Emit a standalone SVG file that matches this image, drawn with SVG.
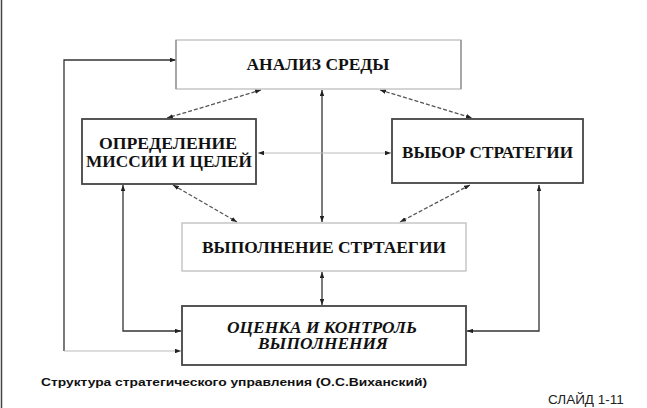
<svg xmlns="http://www.w3.org/2000/svg" width="647" height="408" viewBox="0 0 647 408">
<style>
.bg{fill:#fff}
.dk{fill:#fff;stroke:#444;stroke-width:1.8}
.lt{fill:#fff;stroke:#b8b8b8;stroke-width:1.2}
.t{font-family:"Liberation Serif","DejaVu Serif",serif;font-weight:bold;font-size:16px;fill:#111;text-anchor:middle}
.ti{font-style:italic}
.c{fill:none;stroke:#333;stroke-width:1.3}
.cd{fill:none;stroke:#555;stroke-width:1.3;stroke-dasharray:4 2}
.cl{fill:none;stroke:#bbb;stroke-width:1.1}
.cap{font-family:"Liberation Sans",Arial,sans-serif;font-weight:bold;font-size:11.5px;fill:#111}
.sl{font-family:"Liberation Sans",Arial,sans-serif;font-size:13.5px;fill:#222}
</style>
<defs>
<marker id="a" viewBox="0 0 8 6" refX="8" refY="3" markerWidth="6" markerHeight="4.5" markerUnits="userSpaceOnUse" orient="auto-start-reverse"><path d="M0,0L8,3L0,6Z" fill="#222"/></marker>
</defs>
<rect class="bg" x="0" y="0" width="647" height="408"/>
<line x1="1.5" y1="0" x2="1.5" y2="408" stroke="#444" stroke-width="1.5"/>
<g id="connectors">
<polyline class="c" points="64,351 64,60 176,60" marker-end="url(#a)"/>
<polyline class="cl" points="64,351 181,351" marker-end="url(#a)"/>
<polyline class="c" points="123,185 123,331 181,331" marker-start="url(#a)" marker-end="url(#a)"/>
<polyline class="c" points="539,185 539,331 467,331" marker-start="url(#a)" marker-end="url(#a)"/>
<line class="c" x1="322" y1="90" x2="322" y2="222" marker-start="url(#a)" marker-end="url(#a)"/>
<line class="c" x1="322" y1="272" x2="322" y2="305" marker-start="url(#a)" marker-end="url(#a)"/>
<line class="cd" x1="261" y1="90" x2="167" y2="118" marker-start="url(#a)" marker-end="url(#a)"/>
<line class="cd" x1="380" y1="90" x2="472" y2="118" marker-start="url(#a)" marker-end="url(#a)"/>
<line class="cd" x1="173" y1="185" x2="237" y2="222" marker-start="url(#a)" marker-end="url(#a)"/>
<line class="cd" x1="470" y1="185" x2="400" y2="222" marker-start="url(#a)" marker-end="url(#a)"/>
<line class="cl" x1="258" y1="153" x2="391" y2="153" marker-start="url(#a)" marker-end="url(#a)"/>
</g>
<g id="analiz">
<rect class="lt" x="176" y="40" width="285" height="49"/>
<line x1="176" y1="40" x2="176" y2="89" stroke="#888" stroke-width="1.2"/>
<line x1="461" y1="40" x2="461" y2="89" stroke="#888" stroke-width="1.2"/>
<text class="t" x="318" y="70" textLength="143" lengthAdjust="spacingAndGlyphs">АНАЛИЗ СРЕДЫ</text>
</g>
<g id="missiya">
<rect class="dk" x="82" y="119" width="174" height="65"/>
<text class="t" x="168" y="149" textLength="138" lengthAdjust="spacingAndGlyphs">ОПРЕДЕЛЕНИЕ</text>
<text class="t" x="169" y="167" textLength="166" lengthAdjust="spacingAndGlyphs">МИССИИ И ЦЕЛЕЙ</text>
</g>
<g id="vybor">
<rect class="dk" x="392" y="119" width="191" height="64"/>
<text class="t" x="487.5" y="158" textLength="171" lengthAdjust="spacingAndGlyphs">ВЫБОР СТРАТЕГИИ</text>
</g>
<g id="vypolnenie">
<rect class="lt" x="182" y="223" width="284" height="48"/>
<text class="t" x="324" y="253" textLength="244" lengthAdjust="spacingAndGlyphs">ВЫПОЛНЕНИЕ СТРТАЕГИИ</text>
</g>
<g id="ocenka">
<rect class="dk" x="182" y="306" width="284" height="59"/>
<text class="t ti" x="322" y="333" textLength="190" lengthAdjust="spacingAndGlyphs">ОЦЕНКА И КОНТРОЛЬ</text>
<text class="t ti" x="323" y="349" textLength="130" lengthAdjust="spacingAndGlyphs">ВЫПОЛНЕНИЯ</text>
</g>
<text class="cap" x="41" y="386" textLength="386" lengthAdjust="spacingAndGlyphs">Структура стратегического управления (О.С.Виханский)</text>
<text class="sl" x="548" y="404">СЛАЙД 1-11</text>
</svg>
